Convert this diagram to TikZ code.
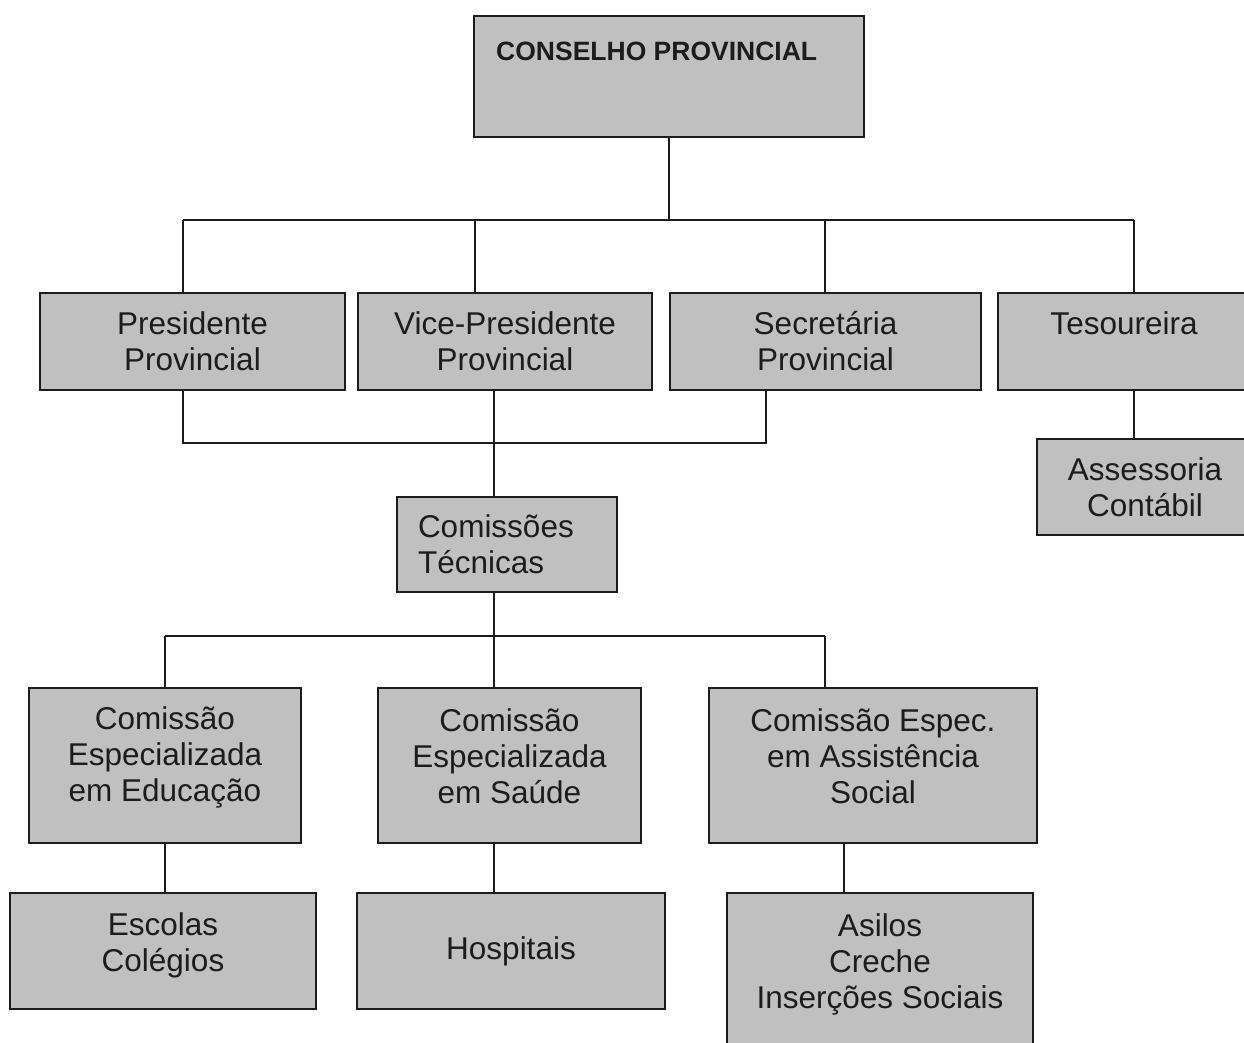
\documentclass[tikz,border=0pt]{standalone}
\usepackage{fontspec}
\setmainfont{Liberation Sans}
\definecolor{boxgray}{RGB}{192,192,192}
\definecolor{ink}{RGB}{28,28,28}
\begin{document}
\begin{tikzpicture}[x=1pt,y=-1pt,
  box/.style={draw=ink, line width=1.9pt, fill=boxgray, inner sep=0pt, align=center,
    text=ink, font=\fontsize{31.5}{36}\selectfont},
  conn/.style={draw=ink, line width=1.9pt}]
\useasboundingbox (0,0) rectangle (1244,1043);
% boxes
\node[box, minimum width=390, minimum height=121] (cons) at (669,76.5) {};
\node[anchor=base west, text=ink, inner sep=0pt, font=\fontsize{26.5}{30}\selectfont\bfseries] (consT) at (496,61) {CONSELHO PROVINCIAL};
\node[box, minimum width=305, minimum height=97] (pres) at (192.5,341.5) {Presidente\\Provincial};
\node[box, minimum width=294, minimum height=97] (vice) at (505,341.5) {Vice-Presidente\\Provincial};
\node[box, minimum width=311, minimum height=97] (sec) at (825.5,341.5) {Secretária\\Provincial};
\node[box, minimum width=252, minimum height=97] (tes) at (1124,341.5) {Tesoureira\\\phantom{X}};
\node[box, minimum width=216, minimum height=96] (ass) at (1145,487) {Assessoria\\Contábil};
\node[box, minimum width=220, minimum height=95, align=left, text width=178, inner xsep=21pt] (ct) at (507,544.5) {Comissões\\Técnicas};
\node[box, minimum width=272, minimum height=155, text depth=22pt] (edu) at (165,765.5) {Comissão\\Especializada\\em Educação};
\node[box, minimum width=263, minimum height=155, text depth=18pt] (sau) at (509.5,765.5) {Comissão\\Especializada\\em Saúde};
\node[box, minimum width=328, minimum height=155, text depth=18pt] (soc) at (873,765.5) {Comissão Espec.\\em Assistência\\Social};
\node[box, minimum width=306, minimum height=116, text depth=18pt] (esc) at (163,951) {Escolas\\Colégios};
\node[box, minimum width=308, minimum height=116] (hos) at (511,951) {Hospitais};
\node[box, minimum width=306, minimum height=172] (asi) at (880,979) {Asilos\\Creche\\Inserções Sociais\\\phantom{X}};
% junction coordinates
\coordinate (hL) at (183,220);
\coordinate (hV) at (475,220);
\coordinate (hS) at (825,220);
\coordinate (hR) at (1134,220);
\coordinate (bL) at (183,443);
\coordinate (bR) at (766,443);
\coordinate (cv) at (494,443);
\coordinate (gL) at (165,636);
\coordinate (gM) at (494,636);
\coordinate (gR) at (825,636);
\coordinate (ax) at (844,0);
% connectors
\draw[conn] (cons.south) -- (cons.south |- hL);
\draw[conn] (hL) -- (hR);
\draw[conn] (hL) -- (hL |- pres.north);
\draw[conn] (hV) -- (hV |- vice.north);
\draw[conn] (hS) -- (hS |- sec.north);
\draw[conn] (hR) -- (hR |- tes.north);
\draw[conn] (bL |- pres.south) -- (bL) -- (bR) -- (bR |- sec.south);
\draw[conn] (cv |- vice.south) -- (cv |- ct.north);
\draw[conn] (hR |- tes.south) -- (hR |- ass.north);
\draw[conn] (gM |- ct.south) -- (gM |- sau.north);
\draw[conn] (gL) -- (gR);
\draw[conn] (gL) -- (gL |- edu.north);
\draw[conn] (gR) -- (gR |- soc.north);
\draw[conn] (gL |- edu.south) -- (gL |- esc.north);
\draw[conn] (gM |- sau.south) -- (gM |- hos.north);
\draw[conn] (ax |- soc.south) -- (ax |- asi.north);
\end{tikzpicture}
\end{document}
